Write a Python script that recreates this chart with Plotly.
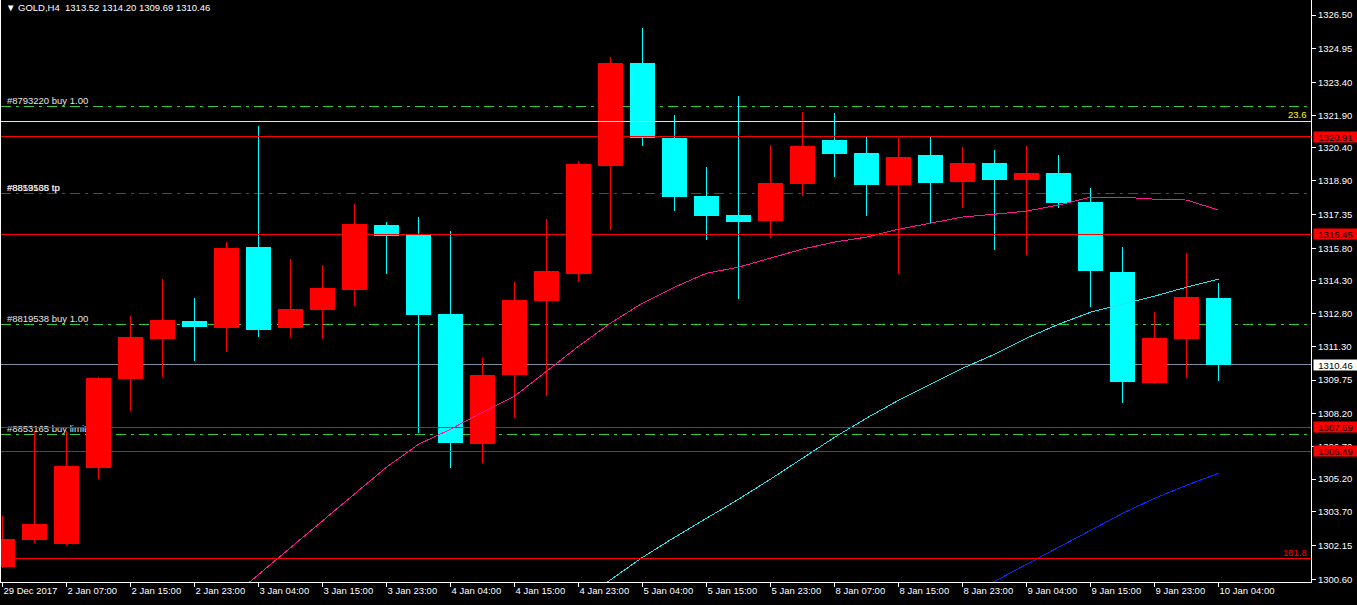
import plotly.graph_objects as go

# ---------------- data ----------------
bar_index = list(range(39))
opens = [1301.16, 1302.39, 1302.21, 1305.70, 1309.79, 1311.62, 1312.45, 1312.13, 1315.85, 1312.13,
         1312.96, 1313.87, 1316.86, 1316.44, 1312.77, 1306.80, 1309.97, 1313.37, 1314.61, 1319.57,
         1324.30, 1320.85, 1318.19, 1317.32, 1317.04, 1318.74, 1320.76, 1320.16, 1318.69, 1320.07,
         1318.83, 1319.70, 1318.92, 1319.25, 1317.91, 1314.70, 1309.60, 1311.62, 1313.52]
highs = [1303.50, 1307.40, 1307.40, 1309.88, 1312.68, 1314.38, 1313.51, 1316.08, 1321.40, 1315.30,
         1315.02, 1317.82, 1317.00, 1317.23, 1316.58, 1310.75, 1314.24, 1317.13, 1319.80, 1324.57,
         1325.90, 1321.91, 1319.52, 1322.78, 1320.53, 1322.05, 1322.00, 1320.90, 1320.85, 1320.90,
         1320.44, 1320.30, 1320.49, 1320.07, 1318.56, 1315.85, 1312.86, 1315.57, 1314.20]
lows = [1301.10, 1302.26, 1302.18, 1305.20, 1308.32, 1309.88, 1310.61, 1311.03, 1311.72, 1311.72,
        1311.62, 1313.14, 1314.61, 1307.31, 1305.70, 1305.93, 1308.00, 1309.01, 1314.24, 1316.63,
        1320.49, 1317.50, 1316.17, 1313.46, 1316.26, 1318.19, 1319.06, 1317.27, 1314.61, 1316.95,
        1317.64, 1315.71, 1315.48, 1317.64, 1313.09, 1308.69, 1309.55, 1309.83, 1309.69]
closes = [1302.44, 1303.13, 1305.79, 1309.83, 1311.72, 1312.50, 1312.17, 1315.80, 1312.04, 1313.00,
          1313.97, 1316.90, 1316.35, 1312.73, 1306.85, 1309.97, 1313.41, 1314.75, 1319.66, 1324.30,
          1320.85, 1318.14, 1317.27, 1317.00, 1318.79, 1320.49, 1320.12, 1318.69, 1319.98, 1318.79,
          1319.70, 1318.92, 1319.25, 1317.87, 1314.75, 1309.65, 1311.67, 1313.55, 1310.46]

ma_pink = [None] * 7 + [1299.59, 1300.83, 1302.07, 1303.27, 1304.55, 1305.75, 1306.80, 1307.49,
                        1308.27, 1309.01, 1310.15, 1311.30, 1312.36, 1313.28, 1314.01, 1314.65,
                        1314.93, 1315.34, 1315.76, 1316.08, 1316.31, 1316.67, 1316.95, 1317.23,
                        1317.36, 1317.50, 1317.78, 1318.14, 1318.14, 1318.05, 1318.01, 1317.55]
ma_cyan = [None] * 18 + [1299.55, 1300.56, 1301.61, 1302.53, 1303.41, 1304.28, 1305.20, 1306.16,
                         1307.12, 1308.00, 1308.82, 1309.56, 1310.29, 1310.93, 1311.67, 1312.31,
                         1312.86, 1313.23, 1313.60, 1314.01, 1314.38]
ma_blue = [None] * 30 + [1299.73, 1300.51, 1301.29, 1302.07, 1302.85, 1303.63, 1304.32, 1304.92, 1305.47]

time_tick_pos = list(range(0, 39, 2))
time_tick_labels = ["29 Dec 2017", "2 Jan 07:00", "2 Jan 15:00", "2 Jan 23:00", "3 Jan 04:00",
                    "3 Jan 15:00", "3 Jan 23:00", "4 Jan 04:00", "4 Jan 15:00", "4 Jan 23:00",
                    "5 Jan 04:00", "5 Jan 15:00", "5 Jan 23:00", "8 Jan 07:00", "8 Jan 15:00",
                    "8 Jan 23:00", "9 Jan 04:00", "9 Jan 15:00", "9 Jan 23:00", "10 Jan 04:00"]
price_ticks = [1326.50, 1324.95, 1323.40, 1321.90, 1320.40, 1318.90, 1317.35, 1315.80, 1314.30,
               1312.80, 1311.30, 1309.75, 1308.20, 1306.70, 1305.20, 1303.70, 1302.15, 1300.60]

order_levels = [1322.32, 1318.31, 1318.31, 1312.30, 1307.25]
order_texts = ["#8793220 buy 1.00", "#8819538 tp", "#8853165 tp", "#8819538 buy 1.00", "#8853165 buy limit"]
order_kinds = ["open", "tp", "tp", "open", "open"]

red_levels = [1320.91, 1316.45, 1307.59, 1306.49]
fib_levels = [1321.62, 1301.55]
fib_texts = ["23.6", "161.8"]
bid_price = 1310.46
title_text = "GOLD,H4\u00a0\u00a01313.52 1314.20 1309.69 1310.46"

# ---------------- styling ----------------
BULL = "#FF0000"
BEAR = "#00FFFF"
FONT = "Liberation Sans, Arial, sans-serif"
FS = 9.5

fig = go.Figure()

# wicks
for color, is_bull in ((BULL, True), (BEAR, False)):
    wx, wy = [], []
    for i, o, h, l, c in zip(bar_index, opens, highs, lows, closes):
        if (c >= o) == is_bull:
            wx += [i, i, None]
            wy += [l, h, None]
    fig.add_trace(go.Scatter(x=wx, y=wy, mode="lines", line=dict(color=color, width=1),
                             hoverinfo="skip", showlegend=False))

# bodies
fig.add_trace(go.Bar(
    x=bar_index,
    base=[min(o, c) for o, c in zip(opens, closes)],
    y=[abs(c - o) for o, c in zip(opens, closes)],
    width=0.78,
    marker=dict(color=[BULL if c >= o else BEAR for o, c in zip(opens, closes)], line=dict(width=0)),
    hoverinfo="skip", showlegend=False,
))

# moving averages
for vals, col in ((ma_pink, "#FF1493"), (ma_cyan, "#22E6EE"), (ma_blue, "#0A28FF")):
    fig.add_trace(go.Scatter(x=bar_index, y=vals, mode="lines", line=dict(color=col, width=1),
                             hoverinfo="skip", showlegend=False, connectgaps=False))

shapes = []
annotations = []

# order lines (background)
seen = set()
for lvl, txt, kind in zip(order_levels, order_texts, order_kinds):
    col = "#32CD32" if kind == "open" else "#FF0000"
    if lvl not in seen:
        seen.add(lvl)
        shapes.append(dict(type="line", xref="paper", x0=0, x1=1, yref="y", y0=lvl, y1=lvl,
                           line=dict(color=col, width=1, dash="10px,5px,3px,5px"), layer="below"))
    shapes.append(dict(type="line", xref="paper", x0=0.0045, x1=0.4, yref="y", y0=lvl, y1=lvl,
                       line=dict(color="rgba(0,0,0,0)", width=0), layer="below",
                       label=dict(text=txt, textposition="start", xanchor="left", yanchor="bottom",
                                  padding=1, font=dict(family=FONT, size=FS, color="#E6E6E6"))))

# bid line (background)
shapes.append(dict(type="line", xref="paper", x0=0, x1=1, yref="y", y0=bid_price, y1=bid_price,
                   line=dict(color="#7F8FA6", width=1), layer="below"))

# red horizontal lines (foreground)
for lvl in red_levels:
    shapes.append(dict(type="line", xref="paper", x0=0, x1=1, yref="y", y0=lvl, y1=lvl,
                       line=dict(color="#FF0000", width=1), layer="above"))

# fibo lines
for lvl, txt, col in zip(fib_levels, fib_texts, ("#FFFF00", "#FF0000")):
    shapes.append(dict(type="line", xref="paper", x0=0, x1=1, yref="y", y0=lvl, y1=lvl,
                       line=dict(color=col, width=1), layer="above"))
    annotations.append(dict(text=txt, xref="paper", x=1, xanchor="right", xshift=-2,
                            yref="y", y=lvl, yanchor="bottom", yshift=-1, showarrow=False,
                            font=dict(family=FONT, size=FS, color=col)))

# price boxes on the right axis
for lvl, bg in [(l, "#FF0000") for l in red_levels] + [(bid_price, "#FFFFFF")]:
    annotations.append(dict(text=f"{lvl:.2f}", xref="paper", x=1.0019, xanchor="left",
                            yref="y", y=lvl, yanchor="middle", showarrow=False,
                            width=43, height=10, borderpad=0, bgcolor=bg, align="center",
                            font=dict(family=FONT, size=FS, color="#000000")))

# title
annotations.append(dict(text="\u25bc\u00a0" + title_text, xref="paper", x=0, xanchor="left", xshift=3,
                        yref="paper", y=1, yanchor="top", yshift=0, showarrow=False,
                        font=dict(family=FONT, size=FS, color="#FFFFFF")))

fig.update_layout(
    width=1357, height=605, autosize=False,
    paper_bgcolor="#000000", plot_bgcolor="#000000",
    margin=dict(l=1, r=46, t=0, b=23, autoexpand=False),
    showlegend=False, bargap=0,
    shapes=shapes, annotations=annotations,
    xaxis=dict(range=[-0.047, 40.89], showgrid=False, zeroline=False, automargin=False,
               showline=True, linecolor="#FFFFFF", linewidth=1, mirror=False,
               ticks="outside", ticklen=4, tickcolor="#FFFFFF", tickwidth=1,
               tickvals=time_tick_pos, ticktext=time_tick_labels, tickangle=0,
               ticklabelposition="outside right",
               tickfont=dict(family=FONT, size=FS, color="#FFFFFF"), fixedrange=True),
    yaxis=dict(range=[1300.48, 1327.19], side="right", showgrid=False, zeroline=False,
               automargin=False,
               showline=True, linecolor="#FFFFFF", linewidth=1, mirror=True,
               ticks="outside", ticklen=4, tickcolor="#FFFFFF", tickwidth=1,
               tickvals=price_ticks, tickformat=".2f",
               tickfont=dict(family=FONT, size=FS, color="#FFFFFF"), fixedrange=True),
)

crisp_js = (
    "document.body.style.margin='0';document.body.style.background='#000';"
    "document.querySelectorAll('.shapelayer path, .scatterlayer path.js-line')"
    ".forEach(function(p){p.style.shapeRendering='crispEdges';});"
)
fig.write_html("out.html", config={"displayModeBar": False}, post_script=crisp_js)
